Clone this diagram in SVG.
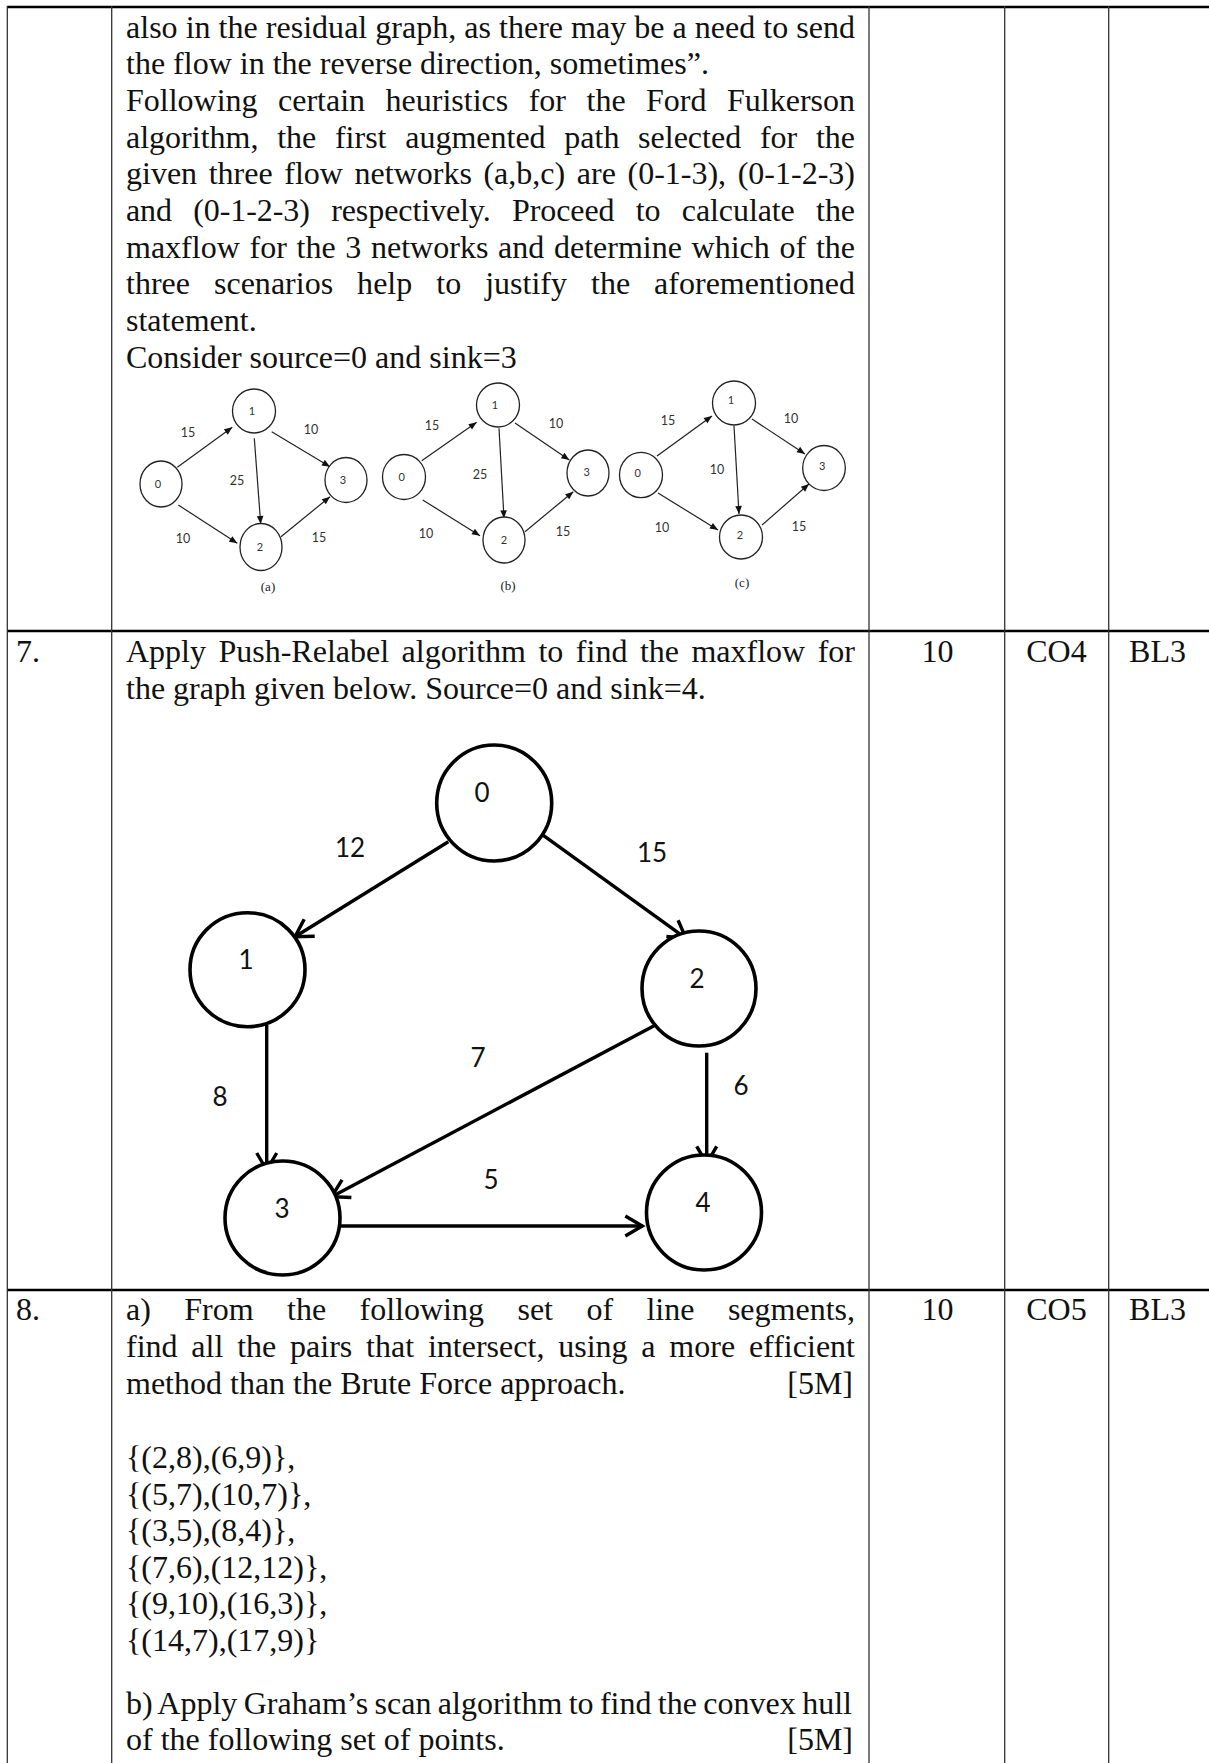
<svg xmlns="http://www.w3.org/2000/svg" width="1209" height="1763" viewBox="0 0 1209 1763">
<style>
.t{font-family:"Liberation Serif","Times New Roman",serif;font-size:32px;fill:#111}
.c{text-anchor:middle}
.e{text-anchor:end}
.s{font-family:Lato,"Liberation Sans",sans-serif;text-anchor:middle;fill:#333}
.sl{font-size:12.5px}
.sn{font-size:11px}
.cap{font-family:"Liberation Serif",serif;font-size:13px;text-anchor:middle;fill:#222}
.bl{font-family:Lato,"Liberation Sans",sans-serif;font-size:26px;text-anchor:middle;fill:#111}
.hb{stroke:#000;stroke-width:2.5}
.vb{stroke:#333;stroke-width:1.3}
.sc{fill:#fff;stroke:#222;stroke-width:1.3}
.se{stroke:#222;stroke-width:1.2;fill:none;marker-end:url(#sa)}
.bc{fill:#fff;stroke:#000;stroke-width:3.6}
.be{stroke:#000;stroke-width:3.4;fill:none;marker-end:url(#ba)}
</style>
<defs>
<marker id="sa" markerUnits="userSpaceOnUse" markerWidth="12" markerHeight="12" refX="0" refY="0" orient="auto" overflow="visible" viewBox="-10 -6 12 12">
<path d="M0,0 L-8,-3.3 L-8,3.3 Z" fill="#111"/>
</marker>
<marker id="ba" markerUnits="userSpaceOnUse" markerWidth="30" markerHeight="30" refX="0" refY="0" orient="auto" overflow="visible" viewBox="-25 -15 30 30">
<path d="M-17,-10 L0,0 L-17,10" fill="none" stroke="#000" stroke-width="3.4"/>
</marker>
</defs>

<g id="table">
<line class="hb" x1="7" y1="7" x2="1209" y2="7"/>
<line class="hb" x1="7" y1="631" x2="1209" y2="631"/>
<line class="hb" x1="7" y1="1290" x2="1209" y2="1290"/>
<line class="vb" x1="7.3" y1="6" x2="7.3" y2="1763"/>
<line class="vb" x1="111.7" y1="6" x2="111.7" y2="1763"/>
<line class="vb" x1="869" y1="6" x2="869" y2="1763"/>
<line class="vb" x1="1004.7" y1="6" x2="1004.7" y2="1763"/>
<line class="vb" x1="1108.7" y1="6" x2="1108.7" y2="1763"/>
</g>

<g id="row6-text">
<text class="t" x="126" y="37.5" textLength="729" lengthAdjust="spacing">also in the residual graph, as there may be a need to send</text>
<text class="t" x="126" y="74.2">the flow in the reverse direction, sometimes”.</text>
<text class="t" x="126" y="110.9" word-spacing="12.5" textLength="729" lengthAdjust="spacing">Following certain heuristics for the Ford Fulkerson</text>
<text class="t" x="126" y="147.6" word-spacing="10.7" textLength="729" lengthAdjust="spacing">algorithm, the first augmented path selected for the</text>
<text class="t" x="126" y="184.3" word-spacing="3.6" textLength="729" lengthAdjust="spacing">given three flow networks (a,b,c) are (0-1-3), (0-1-2-3)</text>
<text class="t" x="126" y="221" word-spacing="13.4" textLength="729" lengthAdjust="spacing">and (0-1-2-3) respectively. Proceed to calculate the</text>
<text class="t" x="126" y="257.7" word-spacing="1.7" textLength="729" lengthAdjust="spacing">maxflow for the 3 networks and determine which of the</text>
<text class="t" x="126" y="294.4" word-spacing="16" textLength="729" lengthAdjust="spacing">three scenarios help to justify the aforementioned</text>
<text class="t" x="126" y="331.1">statement.</text>
<text class="t" x="126" y="367.8">Consider source=0 and sink=3</text>
</g>

<g id="graph-a">
<g id="a-edges">
<line class="se" x1="177.3" y1="467.3" x2="232.3" y2="427.3"/>
<line class="se" x1="178.3" y1="505" x2="237.3" y2="543.3"/>
<line class="se" x1="254.3" y1="438.3" x2="260.7" y2="524"/>
<line class="se" x1="271.7" y1="431.7" x2="330" y2="466.7"/>
<line class="se" x1="281" y1="536.7" x2="330" y2="496.7"/>
</g>
<g id="a-n0"><ellipse class="sc" cx="161" cy="484" rx="21" ry="23"/><text class="s sn" x="158" y="488">0</text></g>
<g id="a-n1"><ellipse class="sc" cx="254" cy="411" rx="21.5" ry="22"/><text class="s sn" x="252" y="415">1</text></g>
<g id="a-n2"><ellipse class="sc" cx="261" cy="547" rx="21" ry="23.5"/><text class="s sn" x="260" y="551">2</text></g>
<g id="a-n3"><ellipse class="sc" cx="346" cy="480" rx="21" ry="22.5"/><text class="s sn" x="343" y="484">3</text></g>
<text class="s sl" x="188" y="436.5">15</text>
<text class="s sl" x="311" y="433.5">10</text>
<text class="s sl" x="237" y="484.5">25</text>
<text class="s sl" x="183" y="542.5">10</text>
<text class="s sl" x="319" y="541.5">15</text>
<text class="cap" x="268" y="591">(a)</text>
</g>

<g id="graph-b">
<g id="b-edges">
<line class="se" x1="421.7" y1="460.7" x2="476.7" y2="422.3"/>
<line class="se" x1="422.7" y1="500" x2="480" y2="535.7"/>
<line class="se" x1="499" y1="428.3" x2="504" y2="518.3"/>
<line class="se" x1="515" y1="423" x2="569.3" y2="460"/>
<line class="se" x1="525" y1="531.7" x2="573.3" y2="491.7"/>
</g>
<g id="b-n0"><ellipse class="sc" cx="404" cy="477" rx="21.5" ry="22.5"/><text class="s sn" x="401.7" y="481">0</text></g>
<g id="b-n1"><ellipse class="sc" cx="498" cy="405" rx="21.5" ry="22"/><text class="s sn" x="495" y="409">1</text></g>
<g id="b-n2"><ellipse class="sc" cx="504" cy="540" rx="21" ry="23"/><text class="s sn" x="504" y="544">2</text></g>
<g id="b-n3"><ellipse class="sc" cx="588" cy="473" rx="21" ry="23"/><text class="s sn" x="586.7" y="476">3</text></g>
<text class="s sl" x="432" y="429.5">15</text>
<text class="s sl" x="556" y="427.5">10</text>
<text class="s sl" x="480" y="478.5">25</text>
<text class="s sl" x="426" y="537.5">10</text>
<text class="s sl" x="563" y="535.5">15</text>
<text class="cap" x="508" y="590">(b)</text>
</g>

<g id="graph-c">
<g id="c-edges">
<line class="se" x1="657" y1="456" x2="712" y2="416"/>
<line class="se" x1="658" y1="493" x2="718" y2="530"/>
<line class="se" x1="734" y1="426" x2="739" y2="514"/>
<line class="se" x1="752" y1="419" x2="805" y2="454"/>
<line class="se" x1="762" y1="525" x2="809" y2="484"/>
</g>
<g id="c-n0"><ellipse class="sc" cx="641" cy="475" rx="21.5" ry="22.7"/><text class="s sn" x="637.7" y="476.5">0</text></g>
<g id="c-n1"><ellipse class="sc" cx="734" cy="403" rx="21.5" ry="22"/><text class="s sn" x="731" y="403.5">1</text></g>
<g id="c-n2"><ellipse class="sc" cx="741" cy="537" rx="21.5" ry="22"/><text class="s sn" x="740" y="539">2</text></g>
<g id="c-n3"><ellipse class="sc" cx="824" cy="468" rx="21.3" ry="22.5"/><text class="s sn" x="822.3" y="470">3</text></g>
<text class="s sl" x="668" y="424.5">15</text>
<text class="s sl" x="791" y="422.5">10</text>
<text class="s sl" x="717" y="473.5">10</text>
<text class="s sl" x="662" y="531.5">10</text>
<text class="s sl" x="799" y="530.5">15</text>
<text class="cap" x="742" y="587">(c)</text>
</g>

<g id="row7-text">
<text class="t" x="16" y="662">7.</text>
<text class="t" x="126" y="662" word-spacing="4.5" textLength="729" lengthAdjust="spacing">Apply Push-Relabel algorithm to find the maxflow for</text>
<text class="t" x="126" y="699">the graph given below. Source=0 and sink=4.</text>
<text class="t c" x="937.5" y="662">10</text>
<text class="t c" x="1056.5" y="662">CO4</text>
<text class="t c" x="1157.5" y="662">BL3</text>
</g>

<g id="big-graph">
<g id="big-edges">
<line class="be" x1="448.3" y1="841.7" x2="295" y2="936.7"/>
<line class="be" x1="535" y1="829.3" x2="686" y2="938.3"/>
<line class="be" x1="266.7" y1="1025" x2="266.7" y2="1170"/>
<line class="be" x1="661.7" y1="1021.7" x2="331.7" y2="1196.7"/>
<line class="be" x1="706.7" y1="1052.7" x2="706.7" y2="1163.3"/>
<line class="be" x1="340" y1="1226" x2="642.3" y2="1226"/>
</g>
<g id="n0"><ellipse class="bc" cx="494.2" cy="803" rx="57.5" ry="58"/><text class="bl" x="482" y="802">0</text></g>
<g id="n1"><ellipse class="bc" cx="247.5" cy="969.7" rx="57.5" ry="57"/><text class="bl" x="246" y="969">1</text></g>
<g id="n2"><ellipse class="bc" cx="699" cy="988.5" rx="57" ry="57.5"/><text class="bl" x="697" y="988">2</text></g>
<g id="n3"><ellipse class="bc" cx="282.5" cy="1218" rx="57.5" ry="57"/><text class="bl" x="282" y="1218">3</text></g>
<g id="n4"><ellipse class="bc" cx="704" cy="1212.5" rx="57.5" ry="57.5"/><text class="bl" x="703" y="1212">4</text></g>
<text class="bl" x="350" y="857">12</text>
<text class="bl" x="652" y="862">15</text>
<text class="bl" x="220" y="1106">8</text>
<text class="bl" x="478" y="1067">7</text>
<text class="bl" x="741" y="1095">6</text>
<text class="bl" x="491" y="1189">5</text>
</g>

<g id="row8-text">
<text class="t" x="16" y="1320">8.</text>
<text class="t" x="126" y="1320" word-spacing="25.4" textLength="729" lengthAdjust="spacing">a) From the following set of line segments,</text>
<text class="t" x="126" y="1357" word-spacing="5.75" textLength="729" lengthAdjust="spacing">find all the pairs that intersect, using a more efficient</text>
<text class="t" x="126" y="1394">method than the Brute Force approach.</text>
<text class="t e" x="853" y="1394">[5M]</text>
<text class="t" x="126" y="1468">{(2,8),(6,9)},</text>
<text class="t" x="126" y="1505">{(5,7),(10,7)},</text>
<text class="t" x="126" y="1541">{(3,5),(8,4)},</text>
<text class="t" x="126" y="1578">{(7,6),(12,12)},</text>
<text class="t" x="126" y="1614">{(9,10),(16,3)},</text>
<text class="t" x="126" y="1651">{(14,7),(17,9)}</text>
<text class="t" x="126" y="1714" word-spacing="-1.7" textLength="726" lengthAdjust="spacing">b) Apply Graham’s scan algorithm to find the convex hull</text>
<text class="t" x="126" y="1750">of the following set of points.</text>
<text class="t e" x="853" y="1750">[5M]</text>
<text class="t c" x="937.5" y="1320">10</text>
<text class="t c" x="1056.5" y="1320">CO5</text>
<text class="t c" x="1157.5" y="1320">BL3</text>
</g>
</svg>
